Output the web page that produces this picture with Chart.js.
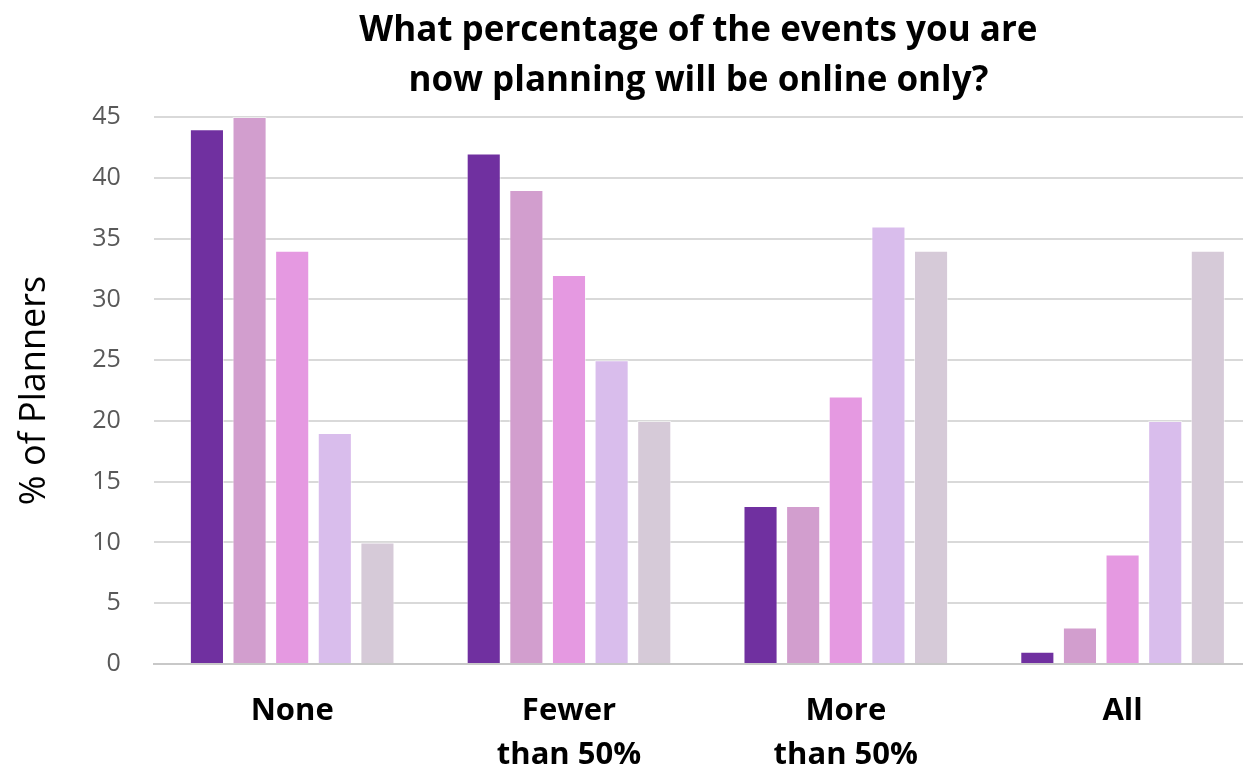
<!DOCTYPE html>
<html>
<head>
<meta charset="utf-8">
<script src="https://cdn.jsdelivr.net/npm/chart.js@4"></script>
<style>
  html, body { margin: 0; padding: 0; background: #fff; }
  #wrap { width: 1243px; height: 769px; }
</style>
</head>
<body>
<div id="wrap"><canvas id="chart" width="1243" height="769"></canvas></div>
<script>
const categories = ['None', ['Fewer', 'than 50%'], ['More', 'than 50%'], 'All'];
const seriesA = [44, 42, 13, 1];
const seriesB = [45, 39, 13, 3];
const seriesC = [34, 32, 22, 9];
const seriesD = [19, 25, 36, 20];
const seriesE = [10, 20, 34, 34];
const yTicks = [0, 5, 10, 15, 20, 25, 30, 35, 40, 45];

const colors = ['#7030A0', '#D29ECE', '#E599E1', '#D9BDEC', '#D6CAD8'];
const font = "Open Sans, 'Liberation Sans', sans-serif";

const ds = [seriesA, seriesB, seriesC, seriesD, seriesE].map((d, i) => ({
    label: 'S' + (i + 1),
    data: d,
    backgroundColor: colors[i],
    borderColor: 'rgba(255,255,255,0.55)',
    borderWidth: 1,
    categoryPercentage: 0.77,
    barPercentage: 0.8
}));

new Chart(document.getElementById('chart').getContext('2d'), {
    type: 'bar',
    data: { labels: categories, datasets: ds },
    options: {
        responsive: false,
        animation: false,
        layout: { padding: { left: 0, right: 0, top: 0, bottom: -33 } },
        plugins: {
            legend: { display: false },
            tooltip: { enabled: false },
            title: {
                display: true,
                fullSize: false,
                text: ['What percentage of the events you are', 'now planning will be online only?'],
                color: '#000',
                font: { family: font, size: 35, weight: 'bold', lineHeight: 1.43 },
                padding: { top: 6, bottom: 11 }
            }
        },
        scales: {
            x: {
                // last category runs slightly past the right edge
                afterBuildTicks: axis => { axis._startValue = -0.5; axis._valueRange = 3.935; },
                grid: { display: false, drawTicks: false },
                border: { color: '#c8c8c8', width: 2 },
                ticks: {
                    color: '#000',
                    font: { family: font, size: 31, weight: 'bold', lineHeight: 1.42 },
                    padding: 25,
                    maxRotation: 0
                }
            },
            y: {
                min: 0,
                max: 45,
                afterBuildTicks: axis => { axis.ticks = yTicks.map(v => ({ value: v })); },
                grid: { color: '#d9d9d9', lineWidth: 2, drawTicks: false },
                border: { display: false },
                ticks: {
                    color: '#595959',
                    font: { family: font, size: 25 },
                    padding: 33
                },
                title: {
                    display: true,
                    text: '% of Planners',
                    color: '#000',
                    font: { family: font, size: 36, lineHeight: 1.2 },
                    padding: { top: 13, bottom: 3 }
                }
            }
        }
    }
});
</script>
</body>
</html>
